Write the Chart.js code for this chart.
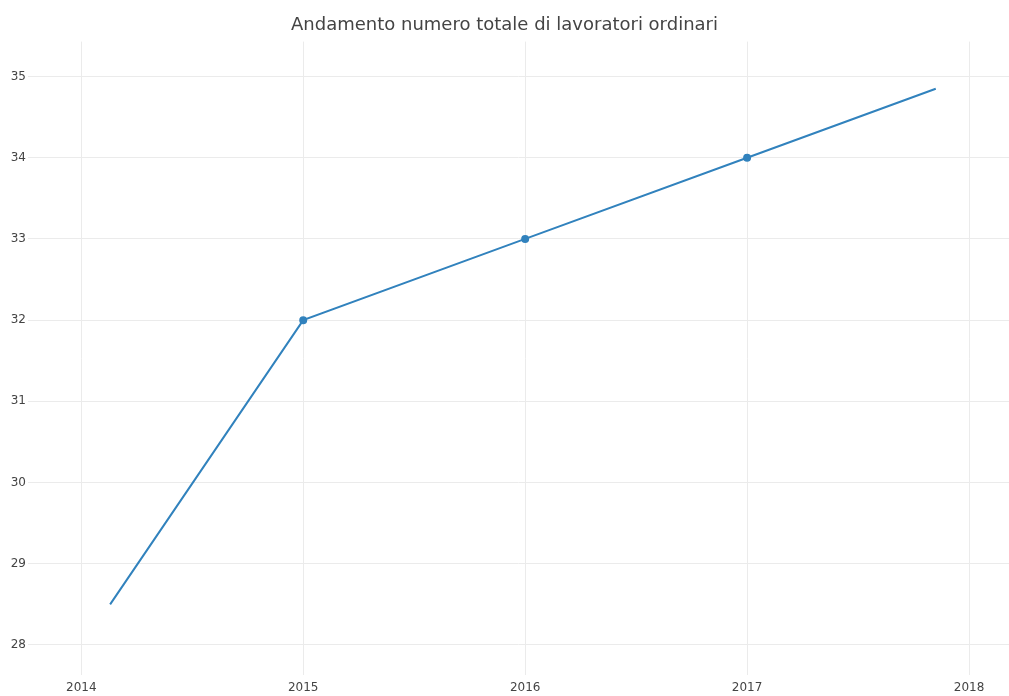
<!DOCTYPE html>
<html>
<head>
<meta charset="utf-8">
<script src="https://cdn.jsdelivr.net/npm/chart.js@4/dist/chart.umd.min.js"></script>
<style>
  html, body { margin: 0; padding: 0; background: #fff; }
  #wrap { width: 1009px; height: 696px; position: relative; }
</style>
</head>
<body>
<div id="wrap"><canvas id="chart"></canvas></div>
<script>
// data
const years = [2014.13, 2015, 2016, 2017, 2017.85];
const workers = [28.5, 32, 33, 34, 34.85];
const markerSizes = [0, 3, 3, 3, 0];
const xTicks = [2014, 2015, 2016, 2017, 2018];
const yTicks = [28, 29, 30, 31, 32, 33, 34, 35];
const titleText = 'Andamento numero totale di lavoratori ordinari';

const FONT = '"DejaVu Sans", sans-serif';
const GRID = '#ebebeb';
const LINE = '#3182bd';

const points = years.map((y, i) => ({ x: y, y: workers[i] }));

new Chart(document.getElementById('chart'), {
    type: 'scatter',
    data: {
        datasets: [{
            data: points,
            showLine: true,
            borderColor: LINE,
            backgroundColor: LINE,
            borderWidth: 2,
            pointRadius: markerSizes,
            pointHoverRadius: markerSizes,
            tension: 0
        }]
    },
    options: {
        responsive: true,
        maintainAspectRatio: false,
        animation: false,
        layout: { padding: 0 },
        plugins: {
            legend: { display: false },
            tooltip: { enabled: false },
            title: {
                display: true,
                text: titleText,
                color: '#444',
                font: { family: FONT, size: 18, weight: 'normal' },
                padding: { top: 15, bottom: 5 }
            }
        },
        scales: {
            x: {
                type: 'linear',
                min: 2013.76,
                max: 2018.18,
                afterBuildTicks: s => { s.ticks = xTicks.map(v => ({ value: v })); },
                afterFit: s => { s.height = 21; },
                grid: { color: GRID, drawTicks: false },
                border: { display: false },
                ticks: {
                    color: '#444',
                    padding: 6,
                    font: { family: FONT, size: 12 },
                    maxRotation: 0,
                    callback: v => String(v)
                }
            },
            y: {
                min: 27.63,
                max: 35.43,
                afterBuildTicks: s => { s.ticks = yTicks.map(v => ({ value: v })); },
                afterFit: s => { s.width = 28; },
                grid: { color: GRID, drawTicks: false },
                border: { display: false },
                ticks: {
                    color: '#444',
                    padding: 2,
                    font: { family: FONT, size: 12 },
                    callback: v => String(v)
                }
            }
        }
    }
});
</script>
</body>
</html>
